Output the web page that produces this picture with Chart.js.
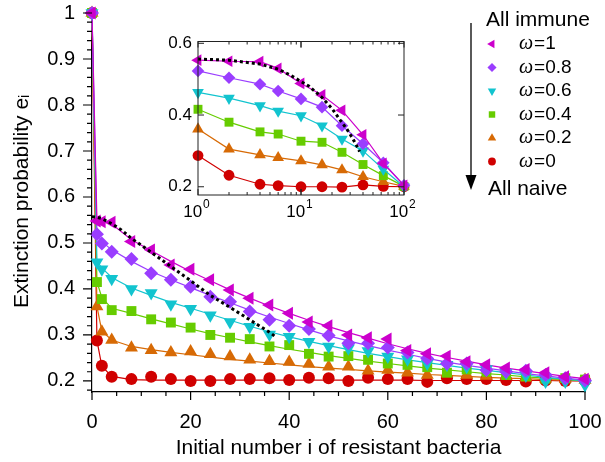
<!DOCTYPE html>
<html>
<head>
<meta charset="utf-8">
<script src="https://cdn.jsdelivr.net/npm/chart.js@4.4.1/dist/chart.umd.min.js"></script>
<style>
  html, body { margin: 0; padding: 0; background: #fff; }
  #wrap { position: relative; width: 605px; height: 462px; }
  #main { position: absolute; left: 0; top: 0; }
  #inset { position: absolute; left: 140px; top: 20px; }
</style>
</head>
<body>
<div id="wrap">
  <canvas id="main" width="605" height="462"></canvas>
  <canvas id="inset" width="280" height="210"></canvas>
</div>
<script>
// omega values, top of legend first
var omegaLabels = ['1', '0.8', '0.6', '0.4', '0.2', '0'];

// main plot: simulation points (markers)
var mainX = [0, 1, 2, 4, 8, 12, 16, 20, 24, 28, 32, 36, 40, 44, 48, 52, 56, 60, 64, 68, 72, 76, 80, 84, 88, 92, 96, 100];
var simW1  = [1.0, 0.548, 0.546, 0.545, 0.503, 0.485, 0.452, 0.443, 0.420, 0.398, 0.380, 0.365, 0.347, 0.328, 0.320, 0.300, 0.294, 0.291, 0.266, 0.259, 0.254, 0.242, 0.235, 0.228, 0.225, 0.218, 0.209, 0.204];
var simW08 = [1.0, 0.519, 0.499, 0.481, 0.465, 0.434, 0.420, 0.405, 0.383, 0.372, 0.351, 0.333, 0.320, 0.313, 0.299, 0.282, 0.282, 0.273, 0.262, 0.249, 0.238, 0.238, 0.224, 0.220, 0.222, 0.213, 0.206, 0.201];
var simW06 = [1.0, 0.458, 0.443, 0.422, 0.400, 0.391, 0.367, 0.357, 0.343, 0.328, 0.318, 0.301, 0.296, 0.285, 0.275, 0.271, 0.265, 0.253, 0.247, 0.238, 0.235, 0.231, 0.226, 0.218, 0.212, 0.199, 0.199, 0.191];
var simW04 = [1.0, 0.415, 0.378, 0.354, 0.352, 0.334, 0.327, 0.316, 0.300, 0.294, 0.291, 0.275, 0.278, 0.259, 0.253, 0.254, 0.246, 0.238, 0.235, 0.230, 0.218, 0.225, 0.220, 0.213, 0.210, 0.205, 0.206, 0.203];
var simW02 = [1.0, 0.362, 0.307, 0.289, 0.272, 0.267, 0.262, 0.264, 0.258, 0.253, 0.246, 0.243, 0.241, 0.237, 0.231, 0.231, 0.222, 0.224, 0.218, 0.213, 0.216, 0.213, 0.211, 0.211, 0.207, 0.205, 0.204, 0.202];
var simW0  = [1.0, 0.288, 0.233, 0.209, 0.204, 0.209, 0.204, 0.200, 0.200, 0.204, 0.204, 0.206, 0.202, 0.207, 0.206, 0.200, 0.207, 0.204, 0.204, 0.198, 0.206, 0.204, 0.204, 0.202, 0.199, 0.201, 0.200, 0.201];

// main plot: theory curves (lines)
var thW1  = [1.0, 0.550, 0.548, 0.541, 0.507, 0.483, 0.460, 0.438, 0.418, 0.398, 0.380, 0.363, 0.347, 0.332, 0.318, 0.305, 0.293, 0.281, 0.270, 0.260, 0.251, 0.243, 0.235, 0.228, 0.222, 0.216, 0.210, 0.205];
var thW08 = [1.0, 0.521, 0.503, 0.485, 0.460, 0.438, 0.420, 0.403, 0.386, 0.370, 0.354, 0.339, 0.325, 0.311, 0.298, 0.287, 0.277, 0.267, 0.258, 0.249, 0.241, 0.234, 0.228, 0.222, 0.216, 0.211, 0.206, 0.202];
var thW06 = [1.0, 0.460, 0.446, 0.425, 0.402, 0.386, 0.371, 0.358, 0.345, 0.332, 0.319, 0.307, 0.296, 0.286, 0.277, 0.268, 0.260, 0.253, 0.246, 0.240, 0.234, 0.228, 0.223, 0.218, 0.213, 0.208, 0.204, 0.200];
var thW04 = [1.0, 0.416, 0.381, 0.358, 0.347, 0.335, 0.324, 0.313, 0.303, 0.294, 0.285, 0.277, 0.269, 0.262, 0.255, 0.249, 0.243, 0.238, 0.233, 0.228, 0.224, 0.220, 0.216, 0.213, 0.209, 0.206, 0.203, 0.200];
var thW02 = [1.0, 0.362, 0.308, 0.289, 0.275, 0.268, 0.262, 0.257, 0.252, 0.247, 0.243, 0.239, 0.235, 0.231, 0.228, 0.225, 0.222, 0.219, 0.217, 0.214, 0.212, 0.210, 0.208, 0.206, 0.205, 0.203, 0.202, 0.200];
var thW0  = [1.0, 0.288, 0.232, 0.210, 0.203, 0.202, 0.202, 0.202, 0.202, 0.202, 0.202, 0.202, 0.202, 0.202, 0.202, 0.202, 0.202, 0.202, 0.202, 0.201, 0.201, 0.201, 0.201, 0.201, 0.201, 0.201, 0.200, 0.200];

// black dotted curve
var dotX = [0, 1, 2, 4, 6, 8, 12, 16, 20, 24, 28, 32, 36, 37];
var dotY = [0.557, 0.556, 0.553, 0.542, 0.528, 0.510, 0.480, 0.449, 0.418, 0.386, 0.360, 0.333, 0.306, 0.298];

// inset (log x)
var insetX = [1, 2, 4, 6, 10, 16, 25, 40, 63, 100];
var inW1  = [0.553, 0.550, 0.549, 0.530, 0.488, 0.456, 0.413, 0.345, 0.265, 0.204];
var inW08 = [0.523, 0.504, 0.486, 0.467, 0.445, 0.422, 0.370, 0.320, 0.267, 0.204];
var inW06 = [0.463, 0.447, 0.426, 0.411, 0.398, 0.370, 0.333, 0.300, 0.249, 0.200];
var inW04 = [0.416, 0.380, 0.353, 0.347, 0.327, 0.324, 0.296, 0.262, 0.231, 0.201];
var inW02 = [0.361, 0.305, 0.289, 0.281, 0.272, 0.261, 0.247, 0.228, 0.214, 0.201];
var inW0  = [0.287, 0.232, 0.207, 0.203, 0.200, 0.200, 0.199, 0.205, 0.201, 0.200];

// tick labels
var xTicks = [0, 20, 40, 60, 80, 100];
var yTicks = [0.2, 0.3, 0.4, 0.5, 0.6, 0.7, 0.8, 0.9, 1];
var insetXTicks = [1, 10, 100];
var insetYTicks = [0.2, 0.4, 0.6];

var simMain = [simW1, simW08, simW06, simW04, simW02, simW0];
var theoryMain = [thW1, thW08, thW06, thW04, thW02, thW0];
var insetSeries = [inW1, inW08, inW06, inW04, inW02, inW0];

// styles
var colors = ['#cc00cc', '#9a3dff', '#12c4cf', '#66cc00', '#d76a05', '#d00000'];
var shapes = ['triangle', 'rectRot', 'triangle', 'rect', 'triangle', 'circle'];
var rots = [-90, 0, 180, 0, 0, 0];
var radii = [7.5, 7, 7.5, 7, 7.5, 6];
var FONT = '"Liberation Sans", Arial, Helvetica, sans-serif';

Chart.defaults.font.family = FONT;
Chart.defaults.color = '#000';

function pts(xs, ys) {
    return xs.map(function (x, i) { return { x: x, y: ys[i] }; });
}

var mainSets = [];
omegaLabels.forEach(function (w, k) {
    mainSets.push({
        label: 'ω=' + w,
        data: pts(mainX, simMain[k]),
        showLine: false,
        pointStyle: shapes[k],
        rotation: rots[k],
        pointRadius: radii[k],
        backgroundColor: colors[k],
        borderColor: colors[k],
        pointBorderWidth: 0,
        order: 1,
        clip: false
    });
});
omegaLabels.forEach(function (w, k) {
    mainSets.push({
        label: 'theory ' + w,
        data: pts(mainX, theoryMain[k]),
        pointRadius: 0,
        borderColor: colors[k],
        borderWidth: 1.2,
        order: 2,
        clip: false
    });
});
mainSets.push({
    label: 'dotted',
    data: pts(dotX, dotY),
    pointRadius: 0,
    borderColor: '#000',
    borderWidth: 3,
    borderDash: [3, 3],
    order: 0
});

var mainTicks = {
    id: 'mainTicks',
    afterDraw: function (chart) {
        var ctx = chart.ctx, xs = chart.scales.x, ys = chart.scales.y;
        var bottom = chart.chartArea.bottom, left = chart.chartArea.left;
        ctx.save();
        ctx.strokeStyle = '#000';
        ctx.lineWidth = 1.2;
        ctx.beginPath();
        for (var v = 0; v <= 100; v += 5) {
            var px = xs.getPixelForValue(v);
            ctx.moveTo(px, bottom);
            ctx.lineTo(px, bottom + (v % 20 === 0 ? 8 : 4));
        }
        for (var k = 9; k <= 50; k++) {
            var py = ys.getPixelForValue(k * 0.02);
            ctx.moveTo(left, py);
            ctx.lineTo(left - (k % 5 === 0 ? 9 : 5), py);
        }
        ctx.stroke();
        ctx.restore();
    }
};

var omegaLegend = {
    id: 'omegaLegend',
    afterDraw: function (chart) {
        var ctx = chart.ctx;
        ctx.save();
        ctx.fillStyle = '#000';
        ctx.strokeStyle = '#000';
        ctx.textBaseline = 'middle';
        ctx.font = '21px ' + FONT;
        ctx.fillText('All immune', 486, 20);
        ctx.fillText('All naive', 488, 189);
        ctx.lineWidth = 1.3;
        ctx.beginPath();
        ctx.moveTo(471, 23);
        ctx.lineTo(471, 178);
        ctx.stroke();
        ctx.beginPath();
        ctx.moveTo(465.5, 175);
        ctx.lineTo(476.5, 175);
        ctx.lineTo(471, 190);
        ctx.closePath();
        ctx.fill();
        omegaLabels.forEach(function (w, k) {
            var y = 44 + k * 23.5;
            ctx.fillStyle = colors[k];
            Chart.helpers.drawPoint(ctx, {
                pointStyle: shapes[k], rotation: rots[k], radius: radii[k] * 0.65, borderWidth: 0
            }, 492, y);
            ctx.fillStyle = '#000';
            ctx.font = 'italic 20px "Liberation Serif", serif';
            ctx.fillText('ω', 519, y);
            var ww = ctx.measureText('ω').width;
            ctx.font = '19px ' + FONT;
            ctx.fillText('=' + w, 519 + ww + 1, y);
        });
        ctx.restore();
    }
};

new Chart(document.getElementById('main'), {
    type: 'line',
    data: { datasets: mainSets },
    options: {
        responsive: false,
        animation: false,
        devicePixelRatio: 1,
        layout: { padding: { top: 10.7, right: 20, left: 0, bottom: 0 } },
        plugins: { legend: { display: false }, tooltip: { enabled: false } },
        scales: {
            x: {
                type: 'linear',
                min: 0,
                max: 100,
                afterBuildTicks: function (s) { s.ticks = xTicks.map(function (v) { return { value: v }; }); },
                afterFit: function (s) { s.height = 70; s.paddingLeft = 0; s.paddingRight = 0; },
                grid: { display: false, drawTicks: false },
                border: { display: true, color: '#000', width: 1.2 },
                ticks: { font: { size: 20 }, color: '#000', padding: 18, maxRotation: 0, autoSkip: false },
                title: {
                    display: true,
                    text: 'Initial number i of resistant bacteria',
                    font: { size: 21 },
                    color: '#000',
                    padding: { top: 0, bottom: 1 }
                }
            },
            y: {
                type: 'linear',
                min: 0.176,
                max: 1.005,
                afterBuildTicks: function (s) { s.ticks = yTicks.map(function (v) { return { value: v }; }); },
                afterFit: function (s) { s.width = 92; s.paddingTop = 0; s.paddingBottom = 0; },
                grid: { display: false, drawTicks: false },
                border: { display: true, color: '#000', width: 1.2 },
                ticks: {
                    font: { size: 20 }, color: '#000', padding: 17, autoSkip: false,
                    callback: function (v) { return v === 1 ? '1' : v.toFixed(1); }
                },
                title: {
                    display: true,
                    text: 'Extinction probability eᵢ',
                    font: { size: 21 },
                    color: '#000',
                    padding: { top: 10, bottom: 0 }
                }
            }
        }
    },
    plugins: [mainTicks, omegaLegend]
});

// inset
var insetSets = [];
omegaLabels.forEach(function (w, k) {
    insetSets.push({
        label: 'ω=' + w,
        data: pts(insetX, insetSeries[k]),
        pointStyle: shapes[k],
        rotation: rots[k],
        pointRadius: radii[k] * 0.9,
        backgroundColor: colors[k],
        borderColor: colors[k],
        borderWidth: 1.2,
        pointBorderWidth: 0,
        order: 1,
        clip: false
    });
});
insetSets.push({
    label: 'dotted',
    data: pts(dotX, dotY).filter(function (p) { return p.x > 0; }),
    pointRadius: 0,
    borderColor: '#000',
    borderWidth: 3,
    borderDash: [3, 3],
    order: 0
});

var insetFrame = {
    id: 'insetFrame',
    afterDraw: function (chart) {
        var ctx = chart.ctx, a = chart.chartArea;
        var xs = chart.scales.x, ys = chart.scales.y;
        ctx.save();
        ctx.strokeStyle = '#222';
        ctx.lineWidth = 1;
        ctx.strokeRect(a.left, a.top, a.right - a.left, a.bottom - a.top);
        ctx.beginPath();
        [1, 10].forEach(function (dec) {
            for (var m = 1; m <= 10; m++) {
                var v = dec * m;
                if (v > 100) continue;
                var px = xs.getPixelForValue(v);
                var len = (m === 1 || m === 10) ? 6 : 3;
                ctx.moveTo(px, a.bottom); ctx.lineTo(px, a.bottom - len);
                ctx.moveTo(px, a.top); ctx.lineTo(px, a.top + len);
            }
        });
        insetYTicks.forEach(function (v) {
            var py = ys.getPixelForValue(v);
            ctx.moveTo(a.left, py); ctx.lineTo(a.left + 6, py);
            ctx.moveTo(a.right, py); ctx.lineTo(a.right - 6, py);
        });
        ctx.stroke();
        // x labels 10^n
        ctx.fillStyle = '#000';
        ctx.textBaseline = 'middle';
        insetXTicks.forEach(function (v, i) {
            var px = xs.getPixelForValue(v);
            var exp = String(Math.round(Math.log10(v)));
            ctx.font = '17px ' + FONT;
            var wb = ctx.measureText('10').width;
            ctx.font = '12px ' + FONT;
            var we = ctx.measureText(exp).width;
            var x0 = px - (wb + we) / 2 - 2;
            ctx.font = '17px ' + FONT;
            ctx.fillText('10', x0, a.bottom + 17);
            ctx.font = '12px ' + FONT;
            ctx.fillText(exp, x0 + wb + 1, a.bottom + 10);
        });
        ctx.restore();
    }
};

new Chart(document.getElementById('inset'), {
    type: 'line',
    data: { datasets: insetSets },
    options: {
        responsive: false,
        animation: false,
        devicePixelRatio: 1,
        layout: { padding: { top: 21.5, right: 16, left: 0, bottom: 0 } },
        plugins: { legend: { display: false }, tooltip: { enabled: false } },
        scales: {
            x: {
                type: 'logarithmic',
                min: 1,
                max: 100,
                afterBuildTicks: function (s) { s.ticks = insetXTicks.map(function (v) { return { value: v }; }); },
                afterFit: function (s) { s.height = 35; s.paddingLeft = 0; s.paddingRight = 0; },
                grid: { display: false, drawTicks: false },
                border: { display: false },
                ticks: { display: false }
            },
            y: {
                type: 'linear',
                min: 0.177,
                max: 0.605,
                afterBuildTicks: function (s) { s.ticks = insetYTicks.map(function (v) { return { value: v }; }); },
                afterFit: function (s) { s.width = 58; s.paddingTop = 0; s.paddingBottom = 0; },
                grid: { display: false, drawTicks: false },
                border: { display: false },
                ticks: {
                    font: { size: 17 }, color: '#000', padding: 6, autoSkip: false,
                    callback: function (v) { return v.toFixed(1); }
                }
            }
        }
    },
    plugins: [insetFrame]
});
</script>
</body>
</html>
